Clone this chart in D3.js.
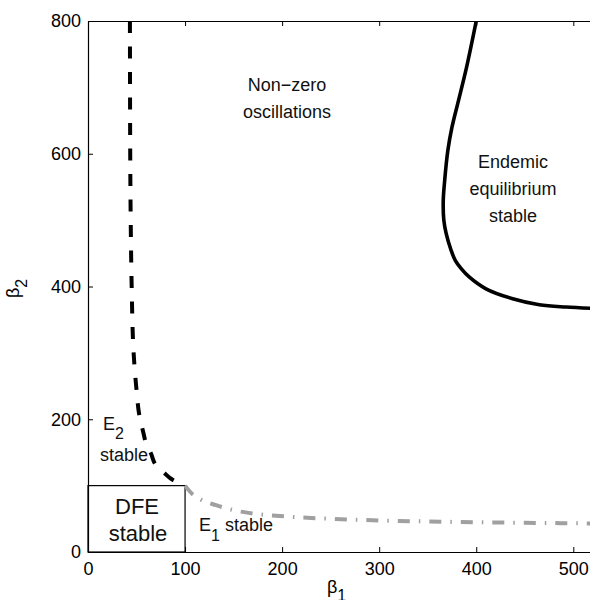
<!DOCTYPE html>
<html>
<head>
<meta charset="utf-8">
<script src="https://cdn.jsdelivr.net/npm/d3@7"></script>
<style>
  body { margin: 0; background: #fff; }
  svg { display: block; font-family: "Liberation Sans", Arial, Helvetica, sans-serif; }
</style>
</head>
<body>
<div id="chart"></div>
<script>
// boundary of E2 stability (black dashed)
var e2Beta1 = [43.2, 43.3, 43.5, 44, 45, 47, 50, 53, 57, 60, 65, 70, 78, 88, 100];
var e2Beta2 = [800, 700, 600, 500, 400, 300, 244, 205, 180, 163, 148, 131, 120, 108, 100];

// boundary of E1 stability (grey dash-dot)
var e1Beta1 = [100, 107, 115, 132, 150, 170, 210, 250, 300, 350, 400, 450, 520];
var e1Beta2 = [100, 88, 80, 70.5, 63, 58, 53, 50, 47.5, 46, 44.8, 44, 43];

// endemic equilibrium stability boundary (solid)
var eeBeta1 = [400, 390, 381.7, 375, 370.7, 367.5, 366, 366.6, 369, 374, 378.5, 384.5, 393, 410, 437.5, 465, 492.5, 520];
var eeBeta2 = [800, 730, 680, 640, 604.5, 560, 529, 500, 480, 455, 439, 427, 414, 396.5, 381.5, 372.5, 369, 367];

var dfeCorner = [100, 100];
var xTicks = [0, 100, 200, 300, 400, 500];
var yTicks = [0, 200, 400, 600, 800];

var width = 590, height = 600;
var plotLeft = 88, plotTop = 21, plotBottom = 552;
var pxPerUnit = (573.3 - 88) / 500;

var x = d3.scaleLinear().domain([0, 520]).range([plotLeft, plotLeft + 520 * pxPerUnit]);
var y = d3.scaleLinear().domain([0, 800]).range([plotBottom, plotTop]);

var svg = d3.select('#chart')
    .append('svg')
    .attr('width', width)
    .attr('height', height);

svg.append('defs').append('clipPath')
    .attr('id', 'plot')
    .append('rect')
    .attr('x', plotLeft)
    .attr('y', plotTop)
    .attr('width', width - plotLeft)
    .attr('height', plotBottom - plotTop);

// axes, ticks pointing inward like matlab
svg.append('g')
    .attr('transform', 'translate(0,' + plotBottom + ')')
    .call(d3.axisBottom(x).tickValues(xTicks).tickSizeInner(-5).tickSizeOuter(0).tickPadding(10));

svg.append('g')
    .attr('transform', 'translate(0,' + plotTop + ')')
    .call(d3.axisTop(x).tickValues(xTicks).tickSizeInner(-5).tickSizeOuter(0).tickFormat(''));

svg.append('g')
    .attr('transform', 'translate(' + plotLeft + ',0)')
    .call(d3.axisLeft(y).tickValues(yTicks).tickSizeInner(-5).tickSizeOuter(0).tickPadding(7));

svg.selectAll('.domain').attr('stroke', '#000').attr('stroke-width', 1.2);
svg.selectAll('.tick line').attr('stroke', '#000').attr('stroke-width', 1);
svg.selectAll('.tick text')
    .attr('font-size', 18)
    .attr('font-family', '"Liberation Sans", Arial, Helvetica, sans-serif')
    .attr('fill', '#000');

// DFE box
svg.append('rect')
    .attr('x', x(0))
    .attr('y', y(dfeCorner[1]))
    .attr('width', x(dfeCorner[0]) - x(0))
    .attr('height', y(0) - y(dfeCorner[1]))
    .attr('fill', 'none')
    .attr('stroke', '#000')
    .attr('stroke-width', 1.2);

var curves = svg.append('g').attr('clip-path', 'url(#plot)');

var e2 = e2Beta1.map(function(d, i) { return [d, e2Beta2[i]]; });
var e1 = e1Beta1.map(function(d, i) { return [d, e1Beta2[i]]; });
var ee = eeBeta1.map(function(d, i) { return [d, eeBeta2[i]]; });

curves.append('path')
    .datum(e2)
    .attr('d', d3.line().x(function(d) { return x(d[0]); }).y(function(d) { return y(d[1]); }).curve(d3.curveMonotoneY))
    .attr('fill', 'none')
    .attr('stroke', '#000')
    .attr('stroke-width', 4)
    .attr('stroke-dasharray', '12,13.5');

curves.append('path')
    .datum(e1)
    .attr('d', d3.line().x(function(d) { return x(d[0]); }).y(function(d) { return y(d[1]); }).curve(d3.curveMonotoneX))
    .attr('fill', 'none')
    .attr('stroke', '#a0a0a0')
    .attr('stroke-width', 4)
    .attr('stroke-dasharray', '12,9,1.5,9');

curves.append('path')
    .datum(ee)
    .attr('d', d3.line().x(function(d) { return x(d[0]); }).y(function(d) { return y(d[1]); }).curve(d3.curveCatmullRom.alpha(0.5)))
    .attr('fill', 'none')
    .attr('stroke', '#000')
    .attr('stroke-width', 3.6);

// region labels
function label(tx, ty, lines, size, anchor) {
    var t = svg.append('text')
        .attr('x', tx)
        .attr('y', ty)
        .attr('font-size', size)
        .attr('text-anchor', anchor || 'middle')
        .attr('fill', '#111');
    lines.forEach(function(l, i) {
        t.append('tspan').attr('x', tx).attr('dy', i === 0 ? 0 : 27).text(l);
    });
    return t;
}

label(287, 91, ['Non\u2212zero', 'oscillations'], 18);
label(513, 168, ['Endemic', 'equilibrium', 'stable'], 18);
label(137, 514, ['DFE'], 22);
label(138, 540.5, ['stable'], 22);
label(124, 461, ['stable'], 18);

var e2Label = svg.append('text').attr('x', 103).attr('y', 430).attr('font-size', 18).attr('fill', '#111');
e2Label.append('tspan').text('E');
e2Label.append('tspan').attr('font-size', 16).attr('dy', 8.5).text('2');

var e1Label = svg.append('text').attr('x', 199).attr('y', 530.7).attr('font-size', 18).attr('fill', '#111');
e1Label.append('tspan').text('E');
e1Label.append('tspan').attr('font-size', 16).attr('dy', 10).text('1');
e1Label.append('tspan').attr('dy', -10).text(' stable');

// axis titles
var xt = svg.append('text').attr('x', 327).attr('y', 593).attr('font-size', 18).attr('fill', '#000');
xt.append('tspan').text('\u03b2');
xt.append('tspan').attr('font-size', 16).attr('dy', 8).text('1');

var yt = svg.append('text')
    .attr('transform', 'translate(19,298) rotate(-90)')
    .attr('font-size', 18)
    .attr('fill', '#000');
yt.append('tspan').text('\u03b2');
yt.append('tspan').attr('font-size', 16).attr('dy', 8).text('2');
</script>
</body>
</html>
